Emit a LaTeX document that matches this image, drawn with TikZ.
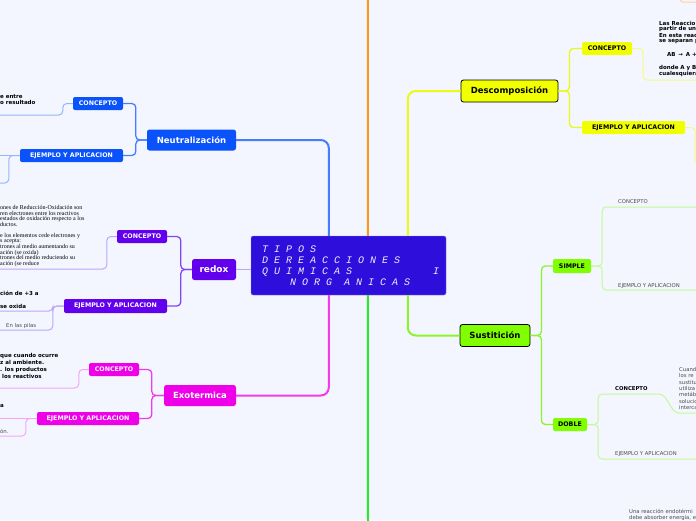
\documentclass[tikz,border=0pt]{standalone}
\usepackage{fontspec}
\setmainfont{DejaVu Sans}
\newfontfamily\monoit{Liberation Mono}
\newfontfamily\serifc{Liberation Serif}
\definecolor{bg}{RGB}{243,246,254}
\definecolor{cbox}{RGB}{46,14,219}
\definecolor{cborder}{RGB}{140,125,245}
\definecolor{nblue}{RGB}{10,82,250}
\definecolor{nline}{RGB}{70,125,255}
\definecolor{nleaf}{RGB}{150,180,255}
\definecolor{rviol}{RGB}{98,0,238}
\definecolor{rline}{RGB}{130,70,245}
\definecolor{rleaf}{RGB}{190,165,250}
\definecolor{emag}{RGB}{238,0,232}
\definecolor{eline}{RGB}{240,60,235}
\definecolor{eleaf}{RGB}{245,165,245}
\definecolor{otr}{RGB}{255,150,30}
\definecolor{gtr}{RGB}{40,235,40}
\definecolor{yel}{RGB}{242,255,0}
\definecolor{yline}{RGB}{235,250,20}
\definecolor{yleaf}{RGB}{245,250,130}
\definecolor{lg}{RGB}{128,255,0}
\definecolor{lgline}{RGB}{140,245,40}
\definecolor{lgleaf}{RGB}{195,250,150}
\definecolor{greytxt}{RGB}{75,75,75}
\tikzset{
  mainbox/.style={rounded corners=2.5pt, inner sep=0pt, font=\bfseries\fontsize{8.5}{10}\selectfont, text=white},
  subbox/.style={rounded corners=2pt, inner sep=0pt, minimum height=13pt, font=\bfseries\fontsize{6.3}{7}\selectfont, text=white},
  ctext/.style={inner sep=0pt, anchor=base west, text=white!93!blue, font=\monoit\itshape\fontsize{10}{11}\selectfont},
  leafb/.style={inner sep=0pt, anchor=base west, font=\bfseries\fontsize{5.5}{6}\selectfont},
  leafn/.style={inner sep=0pt, anchor=base west, text=greytxt, font=\fontsize{5.3}{6}\selectfont},
  leafs/.style={inner sep=0pt, anchor=base west, font=\serifc\fontsize{6}{6}\selectfont},
  trunk/.style={line width=2pt, rounded corners=8pt},
  sub/.style={line width=1.3pt, rounded corners=4pt},
  leaf/.style={line width=1pt, rounded corners=4pt},
}
\begin{document}
\begin{tikzpicture}[x=1pt,y=-1pt]
\useasboundingbox (0,0) rectangle (696,520);
\fill[bg] (0,0) rectangle (696,520);

% central node
\node[draw=cborder, fill=cbox, rounded corners=2pt, inner sep=0pt, minimum width=195pt, minimum height=59pt] (central) at (348.5,265.5) {};
\node[ctext] (t1) at (262,252) {T I P O S};
\node[ctext] (t2) at (262,263) {D E R E A C C I O N E S};
\node[ctext] (t3) at (262,274) {Q U I M I C A S};
\node[ctext] (t3b) at (433,274) {I};
\node[ctext] (t4) at (290,285) {N O R G\ \ A N I C A S};

% main topics
\node[mainbox, fill=nblue, minimum width=89pt, minimum height=21pt] (neut) at (191.5,140) {Neutralización};
\node[mainbox, fill=rviol, minimum width=44pt, minimum height=21pt, font=\bfseries\fontsize{9}{10}\selectfont] (redox) at (214,269.5) {redox};
\node[mainbox, fill=emag, minimum width=72pt, minimum height=21pt] (exo) at (200,395.5) {Exotermica};
\node[mainbox, draw=black, line width=0.8pt, fill=yel, text=black, minimum width=97pt, minimum height=22pt] (desc) at (509.5,91) {Descomposición};
\node[mainbox, draw=black, line width=0.8pt, fill=lg, text=black, minimum width=70pt, minimum height=22pt] (sust) at (495,335.5) {Sustitición};

% sub boxes
\node[subbox, fill=nblue, minimum width=50pt] (nconc) at (98,103.5) {CONCEPTO};
\node[subbox, fill=nblue, minimum width=103pt] (nej) at (71.5,155.5) {EJEMPLO Y APLICACION};
\node[subbox, fill=rviol, minimum width=50pt] (rconc) at (142,236.5) {CONCEPTO};
\node[subbox, fill=rviol, minimum width=103pt, minimum height=14pt] (rej) at (115.5,306) {EJEMPLO Y APLICACION};
\node[subbox, fill=emag, minimum width=50pt] (econc) at (114,369.5) {CONCEPTO};
\node[subbox, fill=emag, minimum width=102pt] (eej) at (88,418.5) {EJEMPLO Y APLICACION};
\node[subbox, fill=yel, text=black, minimum width=50pt] (dconc) at (607,48.5) {CONCEPTO};
\node[subbox, fill=yel, text=black, minimum width=103pt] (dej) at (633.5,127.5) {EJEMPLO Y APLICACION};
\node[subbox, fill=lg, text=black, minimum width=38pt, minimum height=14pt] (simple) at (572,266) {SIMPLE};
\node[subbox, fill=lg, text=black, minimum width=34pt] (doble) at (570,424.5) {DOBLE};

% free ends
\coordinate (otop) at (368,-5);
\coordinate (gbot) at (368,525);
\coordinate (nl1) at (0,115);
\coordinate (nl2) at (0,155.5);
\coordinate (nl3) at (0,183);
\coordinate (rl1) at (0,269);
\coordinate (rl2) at (0,311);
\coordinate (rl3) at (0,330);
\coordinate (el1) at (0,388);
\coordinate (el2) at (0,418.5);
\coordinate (el3) at (0,436);
\coordinate (dl1) at (697,80);
\coordinate (dl2) at (695,162);
\coordinate (sl1) at (697,207);
\coordinate (sl2) at (697,290);
\coordinate (bl1) at (663,394);
\coordinate (bl2) at (675,413);
\coordinate (bl3) at (697,413);
\coordinate (bl4) at (697,459);
\coordinate (ocorner) at (680,-3);
\coordinate (ocorner2) at (697,2);

% trunk connectors
\draw[trunk, nline] (neut.east) -| ([xshift=78pt]central.north west);
\draw[trunk, otr] ([xshift=117pt]central.north west) -- (otop);
\draw[trunk, yline] ([xshift=157pt]central.north west) |- (desc.west);
\draw[trunk, eline] (exo.east) -| ([xshift=78pt]central.south west);
\draw[trunk, gtr] ([xshift=117pt]central.south west) -- (gbot);
\draw[trunk, lgline] ([xshift=157pt]central.south west) |- (sust.west);
\draw[line width=1.3pt, rleaf] (redox.east) -- (redox.east -| central.west);

% sub connectors
\draw[sub, nline] (neut.west) -- ++(-11,0) |- (nconc.east);
\draw[sub, nline] (neut.west) -- ++(-11,0) |- (nej.east);
\draw[sub, rline] (redox.west) -- ++(-11,0) |- (rconc.east);
\draw[sub, rline] (redox.west) -- ++(-11,0) |- (rej.east);
\draw[sub, eline] (exo.west) -- ++(-12,0) |- (econc.east);
\draw[sub, eline] (exo.west) -- ++(-12,0) |- (eej.east);
\draw[sub, yline] (desc.east) -- ++(11,0) |- (dconc.west);
\draw[sub, yline] (desc.east) -- ++(11,0) |- (dej.west);
\draw[sub, lgline] (sust.east) -- ++(11,0) |- (simple.west);
\draw[sub, lgline] (sust.east) -- ++(11,0) |- (doble.west);

% leaf connectors
\draw[leaf, nleaf] (nconc.west) -- ++(-10,0) |- (nl1);
\draw[leaf, nleaf] (nej.west) -- (nl2);
\draw[leaf, nleaf] (nej.west) -- ++(-11,0) |- (nl3);
\draw[leaf, rleaf] (rconc.west) -- ++(-10,0) |- (rl1);
\draw[leaf, rleaf] (rej.west) -- ++(-11,0) |- (rl2);
\draw[leaf, rleaf] (rej.west) -- ++(-11,0) |- (rl3);
\draw[leaf, eleaf] (econc.west) -- ++(-10,0) |- (el1);
\draw[leaf, eleaf] (eej.west) -- (el2);
\draw[leaf, eleaf] (eej.west) -- ++(-11,0) |- (el3);
\draw[leaf, yleaf] (dconc.east) -- ++(11,0) |- (dl1);
\draw[leaf, yleaf] (dej.east) -| (dl2);
\draw[leaf, lgleaf] (simple.east) -- ++(11,0) |- (sl1);
\draw[leaf, lgleaf] (simple.east) -- ++(11,0) |- (sl2);
\draw[leaf, lgleaf] (doble.east) -- ++(11,0) |- (bl1) -- (bl2) -- (bl3);
\draw[leaf, lgleaf] (doble.east) -- ++(11,0) |- (bl4);
\draw[line width=1pt, otr!45, rounded corners=3pt] (ocorner) |- (ocorner2);

% leaf texts: Neutralizacion
\node[leafb] (na1) at (0,98) {e entre};
\node[leafb] (na2) at (0,104) {o resultado};

% redox
\node[leafs] (ra1) at (0,209.5) {ones de Reducción-Oxidación son};
\node[leafs] (ra2) at (0,215) {ren electrones entre los reactivos};
\node[leafs] (ra3) at (0,220.5) {estados de oxidación respecto a los};
\node[leafs] (ra4) at (0,226) {ductos.};
\node[leafs] (ra5) at (0,237.5) {e los elementos cede electrones y};
\node[leafs] (ra6) at (0,242.5) {s acepta:};
\node[leafs] (ra7) at (0,248.5) {trones al medio aumentando su};
\node[leafs] (ra8) at (0,254) {ación (se oxida)};
\node[leafs] (ra9) at (0,259.5) {trones del medio reduciendo su};
\node[leafs] (ra10) at (0,265) {ación (se reduce};
\node[leafb] (rb1) at (0,295) {ción de +3 a};
\node[leafb] (rb2) at (0,308) {se oxida};
\node[leafn] (rb3) at (6,327) {En las pilas};

% exotermica
\node[leafb] (ea1) at (0,357) {que cuando ocurre};
\node[leafb] (ea2) at (0,364.5) {z al ambiente.};
\node[leafb] (ea3) at (0,371) {. los productos};
\node[leafb] (ea4) at (2,378) {los reactivos};
\node[leafb] (eb1) at (0,407) {a};
\node[leafn] (eb2) at (0,433) {ón.};

% descomposicion
\node[leafb] (da1) at (659,25) {Las Reaccio};
\node[leafb] (da2) at (659,30.5) {partir de un};
\node[leafb] (da3) at (659,37) {En esta reac};
\node[leafb] (da4) at (659,42.5) {se separan p};
\node[leafb] (da5) at (667,56) {AB \,→\, A +};
\node[leafb] (da6) at (659,69.5) {donde A y B};
\node[leafb] (da7) at (659,75.5) {cualesquiera};

% sustitucion
\node[leafn] (sa1) at (618,203) {CONCEPTO};
\node[leafn] (sa2) at (618,287) {EJEMPLO Y APLICACION};
\node[leafb, font=\bfseries\fontsize{5.3}{6}\selectfont] (sb1) at (615,390) {CONCEPTO};
\node[leafn] (sb2) at (615,455) {EJEMPLO Y APLICACION};
\node[leafn] (sc1) at (679,371) {Cuand};
\node[leafn] (sc2) at (679,377.5) {los re};
\node[leafn] (sc3) at (679,384) {sustitu};
\node[leafn] (sc4) at (679,390) {utiliza};
\node[leafn] (sc5) at (679,396.5) {metáb};
\node[leafn] (sc6) at (679,403) {solucio};
\node[leafn] (sc7) at (679,409.5) {interca};
\node[leafn] (en1) at (629,513) {Una reacción endotérmi};
\node[leafn] (en2) at (629,519.5) {debe absorber energía, e};
\end{tikzpicture}
\end{document}
